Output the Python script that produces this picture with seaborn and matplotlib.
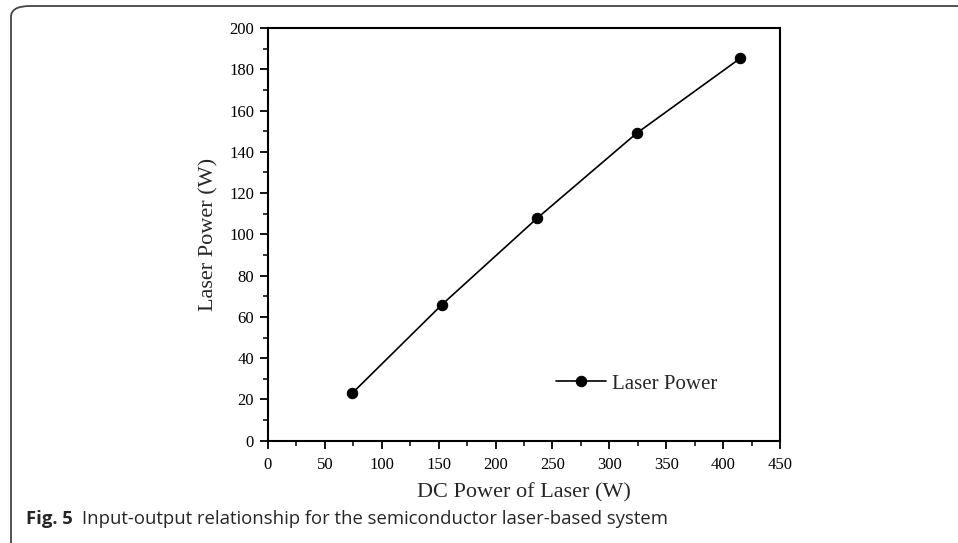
import matplotlib
matplotlib.use("Agg")
import matplotlib.pyplot as plt
from matplotlib.patches import FancyBboxPatch
from matplotlib.ticker import MultipleLocator
import seaborn as sns
import pandas as pd

dc_power = [74, 153, 236.5, 324, 415]
laser_power = [23, 66, 107.8, 149, 185.3]
series_name = "Laser Power"
x_label = "DC Power of Laser (W)"
y_label = "Laser Power (W)"
caption_bold = "Fig. 5"
caption_text = "Input-output relationship for the semiconductor laser-based system"

sns.set_style("ticks")
plt.rcParams["font.family"] = ["Liberation Serif", "DejaVu Serif"]

df = pd.DataFrame({"x": dc_power, "y": laser_power, "series": series_name})

W, H = 958, 543
fig = plt.figure(figsize=(W / 100, H / 100), dpi=100)
ax = fig.add_axes([268 / W, 1 - 440.7 / H, (780 - 268) / W, (440.7 - 28) / H])

sns.lineplot(data=df, x="x", y="y", hue="series", palette=["black"], marker="o",
             markersize=7.5, markeredgecolor="black", linewidth=1.2, ax=ax)

ax.set_xlim(0, 450)
ax.set_ylim(0, 200)
ax.xaxis.set_major_locator(MultipleLocator(50))
ax.xaxis.set_minor_locator(MultipleLocator(25))
ax.yaxis.set_major_locator(MultipleLocator(20))
ax.yaxis.set_minor_locator(MultipleLocator(10))
for s in ax.spines.values():
    s.set_visible(True)
    s.set_linewidth(1.5)
    s.set_color("black")
ax.tick_params(which="major", direction="out", length=6, width=1.3, labelsize=12, colors="black", pad=4)
ax.tick_params(which="minor", direction="out", length=3.5, width=1.3)
ax.tick_params(axis="x", pad=6)
ax.set_xlabel(x_label, fontsize=16, labelpad=7)
ax.set_ylabel(y_label, fontsize=16, labelpad=8)

leg = ax.legend(loc="center left", bbox_to_anchor=(0.546, 0.138), frameon=False, fontsize=15,
                handlelength=2.4, handletextpad=0.3, borderaxespad=0)
ax.grid(False)

# Frame around the figure (open on the right/bottom)
frame = FancyBboxPatch((11 / W, -30 / H), 1.2, (H - 6 + 30) / H,
                       boxstyle="round,pad=0,rounding_size=0.02",
                       transform=fig.transFigure, fill=False, edgecolor="#444444",
                       linewidth=1.3, clip_on=False)
fig.patches.append(frame)

# Caption: fit width between x=26 and x=662 px
cap_y = 1 - 519 / H
fs = 12
fam = ["Open Sans", "DejaVu Sans"]
t1 = fig.text(26 / W, cap_y, caption_bold, fontsize=fs, fontweight="bold",
              family=fam, va="center", ha="left")
t2 = fig.text(0, cap_y, caption_text, fontsize=fs, family=fam, va="center", ha="left")
fig.canvas.draw()
r = fig.canvas.get_renderer()
w1 = t1.get_window_extent(r).width
w2 = t2.get_window_extent(r).width
gap = 9
scale = (662 - 26 - gap) / (w1 + w2)
fs2 = fs * scale
t1.set_fontsize(fs2)
t2.set_fontsize(fs2)
fig.canvas.draw()
bb = t1.get_window_extent(r)
t2.set_x((bb.x1 + gap) / W)

fig.savefig("out.png", dpi=100)
